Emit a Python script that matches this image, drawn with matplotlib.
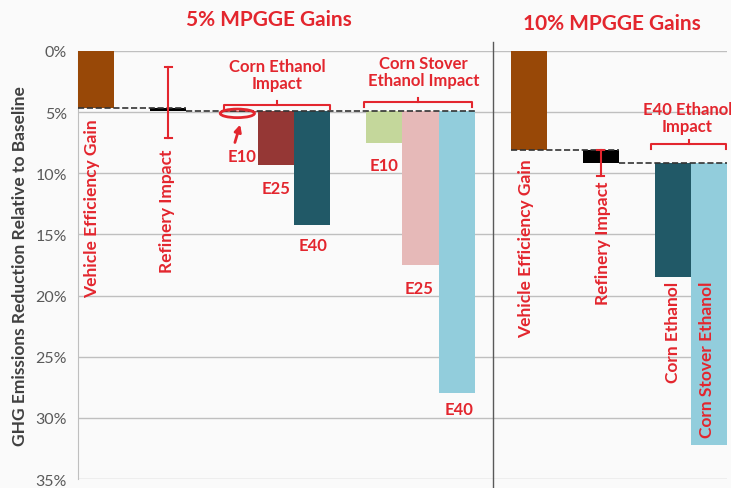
import matplotlib
matplotlib.use('Agg')
import matplotlib.pyplot as plt
from matplotlib.patches import Ellipse
import numpy as np

plt.rcParams['font.family'] = ['Lato', 'DejaVu Sans']

# 5% MPGGE gains: waterfall steps (start, end) in % reduction
labels_5 = ['Vehicle Efficiency Gain', 'Refinery Impact',
            'E10', 'E25', 'E40', 'E10', 'E25', 'E40']
start_5 = [0.0, 4.7, 4.9, 4.9, 4.9, 4.9, 4.9, 4.9]
end_5 = [4.7, 4.9, 5.0, 9.3, 14.2, 7.5, 17.5, 28.0]
colors_5 = ['#984807', '#000000', '#C0504D', '#953735', '#215967',
            '#C4D79B', '#E6B9B8', '#92CDDC']

# 10% MPGGE gains
labels_10 = ['Vehicle Efficiency Gain', 'Refinery Impact',
             'Corn Ethanol', 'Corn Stover Ethanol']
start_10 = [0.0, 8.1, 9.2, 9.2]
end_10 = [8.1, 9.2, 18.5, 32.2]
colors_10 = ['#984807', '#000000', '#215967', '#92CDDC']

# refinery uncertainty range (low, high)
ref_err_5 = (1.3, 7.1)
ref_err_10 = (8.1, 10.2)

yticks = [0, 5, 10, 15, 20, 25, 30, 35]

red = '#E3262E'
x5 = [0, 2, 4, 5, 6, 8, 9, 10]
x10 = [12, 14, 16, 17]

fig = plt.figure(figsize=(7.31, 4.89), dpi=100, facecolor='#FAFAFA')
ax = fig.add_axes([0.1067, 0.0184, 0.8878, 0.8753])
ax.set_facecolor('#FAFAFA')

h5 = np.array(end_5) - np.array(start_5)
h10 = np.array(end_10) - np.array(start_10)
ax.bar(x5, h5, bottom=start_5, width=1.0, color=colors_5, zorder=3)
ax.bar(x10, h10, bottom=start_10, width=1.0, color=colors_10, zorder=3)

# connectors
ax.hlines(end_5[0], -0.5, 2.5, colors='#333333', linestyles='--', lw=1.2, zorder=4)
ax.hlines(end_5[1], 2.5, 10.5, colors='#333333', linestyles='--', lw=1.2, zorder=4)
ax.hlines(end_10[0], 11.5, 14.5, colors='#333333', linestyles='--', lw=1.2, zorder=4)
ax.hlines(end_10[1], 14.5, 17.5, colors='#333333', linestyles='--', lw=1.2, zorder=4)

# refinery error bars
for xx, (lo, hi) in [(x5[1], ref_err_5), (x10[1], ref_err_10)]:
    ax.plot([xx, xx], [lo, hi], color=red, lw=1.5, zorder=5)
    ax.plot([xx - 0.1, xx + 0.1], [lo, lo], color=red, lw=1.5, zorder=5)
    ax.plot([xx - 0.1, xx + 0.1], [hi, hi], color=red, lw=1.5, zorder=5)

ax.set_xlim(-0.5, 17.5)
ax.set_ylim(35, 0)
ax.set_yticks(yticks)
ax.set_yticklabels([f'{v}%' for v in yticks])
ax.tick_params(axis='y', length=0, labelsize=11.5, labelcolor='#595959', pad=8)
ax.set_xticks([])
ax.grid(axis='y', color='#BFBFBF', lw=1, zorder=0)
for s in ['top', 'right', 'bottom']:
    ax.spines[s].set_visible(False)
ax.spines['left'].set_color('#BFBFBF')
ax.set_ylabel('GHG Emissions Reduction Relative to Baseline', fontsize=12.5,
              fontweight='bold', color='#404040', labelpad=5)

# separator
ax.plot([11, 11], [-0.09, 1.02], color='#595959', lw=1,
        transform=ax.get_xaxis_transform(), clip_on=False, zorder=6)

tk = dict(color=red, fontweight='bold', fontsize=12, ha='center', va='center')
ax.text(4.8, -2.6, '5% MPGGE Gains', fontsize=15, color=red, fontweight='bold',
        ha='center', va='center')
ax.text(14.3, -2.3, '10% MPGGE Gains', fontsize=15, color=red, fontweight='bold',
        ha='center', va='center')
ax.text(5.03, 1.95, 'Corn Ethanol\nImpact', linespacing=1.1, **tk)
ax.text(9.08, 1.7, 'Corn Stover\nEthanol Impact', linespacing=1.1, **tk)
ax.text(16.4, 5.45, 'E40 Ethanol\nImpact', linespacing=1.1, **tk)

# series labels
ax.text(4.06, 8.55, labels_5[2], **tk)
ax.text(5.0, 11.2, labels_5[3], **tk)
ax.text(6.03, 15.9, labels_5[4], **tk)
ax.text(8.0, 9.35, labels_5[5], **tk)
ax.text(8.97, 19.35, labels_5[6], **tk)
ax.text(10.08, 29.3, labels_5[7], **tk)

vk = dict(color=red, fontweight='bold', fontsize=12.5, rotation=90,
          ha='center', va='top')
ax.text(-0.1, 5.5, labels_5[0], **vk)
ax.text(1.97, 7.95, labels_5[1], **vk)
ax.text(11.94, 8.8, labels_10[0], **vk)
ax.text(14.05, 10.6, labels_10[1], **vk)
ax.text(16.0, 18.8, labels_10[2], **vk)
ax.text(16.95, 18.8, labels_10[3], **vk)

# brackets
def bracket(x0, x1, y, drop, rise):
    xm = (x0 + x1) / 2
    ax.plot([x0, x0, x1, x1], [y + drop, y, y, y + drop], color=red, lw=1.5,
            zorder=5, solid_joinstyle='round')
    ax.plot([xm, xm], [y, y - rise], color=red, lw=1.5, zorder=5)

bracket(3.56, 6.5, 4.4, 0.35, 0.3)
bracket(7.44, 10.44, 4.15, 0.45, 0.3)
bracket(15.4, 17.47, 7.6, 0.4, 0.35)

# E10 highlight
ax.add_patch(Ellipse((3.92, 5.1), 0.95, 0.7, fill=False, edgecolor=red, lw=2, zorder=6))
ax.annotate('', xy=(4.02, 5.8), xytext=(3.83, 7.7),
            arrowprops=dict(arrowstyle='-|>', color=red, lw=2, mutation_scale=10))

fig.savefig('out.png', dpi=100, facecolor=fig.get_facecolor())
